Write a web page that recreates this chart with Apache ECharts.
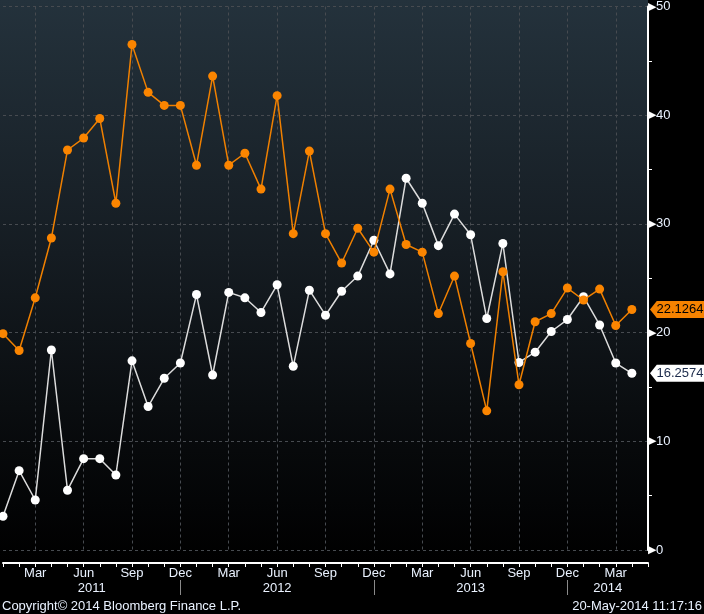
<!DOCTYPE html>
<html>
<head>
<meta charset="utf-8">
<script src="https://cdn.jsdelivr.net/npm/echarts@6/dist/echarts.min.js"></script>
<style>
  html, body { margin: 0; padding: 0; background: #000; }
  #chart {
    width: 704px; height: 614px;
    background: linear-gradient(to bottom, #24323c 0%, #151c22 45%, #07090b 80%, #000 100%) no-repeat 0 0 / 648px 563px, #000;
  }
</style>
</head>
<body>
<div id="chart"></div>
<script>
const categories = [
  'Jan 2011','Feb 2011','Mar 2011','Apr 2011','May 2011','Jun 2011','Jul 2011','Aug 2011','Sep 2011','Oct 2011','Nov 2011','Dec 2011',
  'Jan 2012','Feb 2012','Mar 2012','Apr 2012','May 2012','Jun 2012','Jul 2012','Aug 2012','Sep 2012','Oct 2012','Nov 2012','Dec 2012',
  'Jan 2013','Feb 2013','Mar 2013','Apr 2013','May 2013','Jun 2013','Jul 2013','Aug 2013','Sep 2013','Oct 2013','Nov 2013','Dec 2013',
  'Jan 2014','Feb 2014','Mar 2014','Apr 2014','May 2014'
];
const orangeValues = [
  19.9, 18.35, 23.2, 28.7, 36.8, 37.9, 39.7, 31.9, 46.5, 42.1, 40.9, 40.9,
  35.4, 43.6, 35.4, 36.5, 33.2, 41.8, 29.1, 36.7, 29.1, 26.4, 29.6, 27.4,
  33.2, 28.1, 27.4, 21.75, 25.2, 19.0, 12.8, 25.6, 15.2, 21.0, 21.75, 24.1,
  23.0, 24.0, 20.65, 22.1264
];
const whiteValues = [
  3.1, 7.3, 4.6, 18.4, 5.5, 8.4, 8.4, 6.9, 17.4, 13.2, 15.8, 17.2,
  23.5, 16.1, 23.7, 23.2, 21.85, 24.4, 16.9, 23.9, 21.6, 23.8, 25.2, 28.5,
  25.4, 34.2, 31.9, 28.0, 30.9, 29.0, 21.3, 28.2, 17.25, 18.2, 20.1, 21.2,
  23.3, 20.7, 17.2, 16.2574
];
const monthTickLabels = ['Mar', 'Jun', 'Sep', 'Dec'];
const yearLabels = ['2011', '2012', '2013', '2014'];
const yTickLabels = [0, 10, 20, 30, 40, 50];
const copyrightText = 'Copyright\u00A9 2014 Bloomberg Finance L.P.';
const timestampText = '20-May-2014 11:17:16';

const FONT = '"Liberation Sans", Arial, sans-serif';
const FS = 13;
const TEXT = '#eaf2ff';
const GRID_LINE = { show: true, lineStyle: { color: '#474b50', type: [3, 3], width: 1 } };

const lastIdx = categories.length - 1;
const decIdx = categories.map((c, i) => c.startsWith('Dec') ? i : -1).filter(i => i >= 0);
const yearCenters = {};
yearLabels.forEach(y => {
  const prevDec = categories.indexOf('Dec ' + (Number(y) - 1));
  const thisDec = categories.indexOf('Dec ' + y);
  const s = prevDec < 0 ? 0 : prevDec;
  const e = thisDec < 0 ? lastIdx : thisDec;
  yearCenters[(s + e) / 2] = y;
});

const chart = echarts.init(document.getElementById('chart'), null, { renderer: 'canvas' });

function tag(value, fill, textColor) {
  return {
    symbol: 'path://M0,8L7,0L56,0L56,16L7,16Z',
    symbolSize: [54, 17],
    symbolKeepAspect: false,
    symbolOffset: [29, 0],
    itemStyle: { color: fill, borderWidth: 0 },
    label: {
      show: true, position: 'inside', offset: [3, 0],
      color: textColor, fontSize: FS, fontFamily: FONT,
      formatter: () => String(value)
    },
    data: [{ coord: [categories[lastIdx], value] }],
    silent: true,
    animation: false
  };
}

chart.setOption({
  backgroundColor: 'transparent',
  animation: false,
  grid: { left: 0, right: 56, top: 6, bottom: 64, containLabel: false },
  xAxis: [
    {
      type: 'category',
      data: categories,
      boundaryGap: false,
      offset: 13,
      axisLine: { show: true, onZero: false, lineStyle: { color: '#ffffff', width: 2 } },
      axisTick: { show: true, interval: 0, length: 4, lineStyle: { color: '#ffffff', width: 1 } },
      axisLabel: {
        show: true, interval: 0, margin: 4,
        color: TEXT, fontSize: FS, fontFamily: FONT,
        formatter: v => { const m = v.split(' ')[0]; return monthTickLabels.includes(m) ? m : ''; }
      },
      splitLine: {
        show: true,
        interval: (i, v) => monthTickLabels.includes(String(v).split(' ')[0]),
        lineStyle: { color: '#474b50', type: [3, 3], width: 1 }
      }
    },
    {
      type: 'value',
      min: 0, max: lastIdx,
      position: 'bottom',
      offset: 30,
      axisLine: { show: false, onZero: false },
      axisTick: { show: true, customValues: decIdx, length: 15, inside: false, lineStyle: { color: '#8a8a8a', width: 1 } },
      axisLabel: {
        show: true, customValues: Object.keys(yearCenters).map(Number), margin: 2,
        color: TEXT, fontSize: FS, fontFamily: FONT,
        formatter: v => yearCenters[v] || ''
      },
      splitLine: { show: false }
    }
  ],
  yAxis: {
    type: 'value',
    position: 'right',
    min: 0, max: 50, interval: 10,
    axisLine: { show: true, onZero: false, lineStyle: { color: '#ffffff', width: 2 } },
    axisTick: { show: false },
    minorTick: { show: true, splitNumber: 2, length: 4, lineStyle: { color: '#ffffff', width: 1 } },
    axisLabel: {
      show: true, margin: 0,
      color: TEXT, fontSize: FS, fontFamily: FONT,
      formatter: v => yTickLabels.includes(v) ? '{t|\u25B6}' + v : '',
      rich: { t: { color: '#ffffff', fontSize: 11, padding: [0, 0, 0, 0] } }
    },
    splitLine: GRID_LINE
  },
  series: [
    {
      name: 'White',
      type: 'line',
      data: whiteValues,
      symbol: 'circle', symbolSize: 9,
      lineStyle: { color: '#dcdcdc', width: 1.5 },
      itemStyle: { color: '#ffffff' },
      z: 3,
      markPoint: tag(whiteValues[whiteValues.length - 1], '#ffffff', '#1b2a4a')
    },
    {
      name: 'Orange',
      type: 'line',
      data: orangeValues,
      symbol: 'circle', symbolSize: 9,
      lineStyle: { color: '#f08000', width: 1.5 },
      itemStyle: { color: '#fb8500' },
      z: 4,
      markPoint: tag(orangeValues[orangeValues.length - 1], '#f58200', '#000000')
    }
  ],
  graphic: [
    { type: 'text', left: 2, bottom: 1, style: { text: copyrightText, fill: TEXT, fontSize: FS, fontFamily: FONT } },
    { type: 'text', right: 2, bottom: 1, style: { text: timestampText, fill: TEXT, fontSize: FS, fontFamily: FONT } }
  ]
});
</script>
</body>
</html>
